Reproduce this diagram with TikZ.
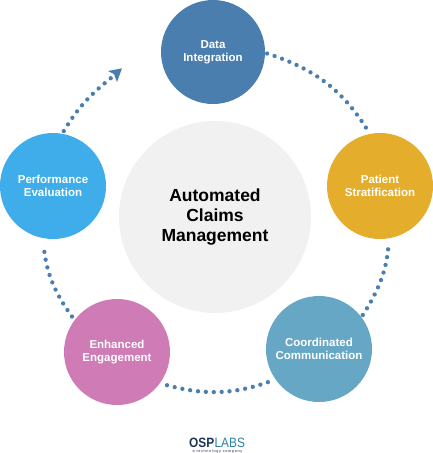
\documentclass[tikz,border=0pt]{standalone}
\usepackage{fontspec}
\setmainfont{Liberation Sans}
\usetikzlibrary{arrows.meta}
\definecolor{cdata}{HTML}{4A7EAF}
\definecolor{cpat}{HTML}{E5AD2C}
\definecolor{ccoord}{HTML}{66A7C5}
\definecolor{cenh}{HTML}{CF7BB6}
\definecolor{cperf}{HTML}{3FADE9}
\definecolor{ccen}{HTML}{F1F1F1}
\definecolor{cnavy}{HTML}{1D3557}
\definecolor{clabs}{HTML}{2C7FA8}
\tikzset{
  stage/.style={circle,draw=none,minimum size=#1,inner sep=0pt,align=center,text=white,
    font=\bfseries\fontsize{11.5}{13}\selectfont},
  hub/.style={circle,fill=ccen,minimum size=192pt,inner sep=0pt,align=center,
    font=\bfseries\fontsize{17.5}{20}\selectfont},
  dots/.style={draw=cdata,line width=4.3pt,line cap=round,dash pattern=on 0pt off 7.9pt},
  logoword/.style={inner sep=0pt,xscale=.88,transform shape,font=\fontsize{13.5}{14}\selectfont}
}
\begin{document}
\begin{tikzpicture}[x=1pt,y=-1pt]
\useasboundingbox (0,0) rectangle (433,453);
\node[hub] (hub) at (215,217) {Automated\\Claims\\Management};
\node[stage=104pt,fill=cdata] (data) at (213,52) {Data\\Integration};
\node[stage=106pt,fill=cpat] (patient) at (380,186) {Patient\\Stratification};
\node[stage=106pt,fill=ccoord] (coord) at (319,349) {Coordinated\\Communication};
\node[stage=106pt,fill=cenh] (enh) at (117,352) {Enhanced\\Engagement};
\node[stage=106pt,fill=cperf] (perf) at (53,186) {Performance\\Evaluation};
\coordinate (shaftend) at (111,78);
\coordinate (tipa) at (122,68.3);
\coordinate (tipb) at (108,71);
\coordinate (tipc) at (114,74);
\coordinate (tipd) at (117,82);
\draw[dots,shorten <=2pt,shorten >=6pt] (data.-1.5) to[bend left=20] (patient.101);
\draw[dots,shorten <=11pt,shorten >=2pt] (patient.-80.6) to[bend left=13.5] (coord.37.6);
\draw[dots,shorten <=8pt,shorten >=5pt] (coord.215.5) to[bend left=17.5] (enh.-36.6);
\draw[dots,shorten <=4.3pt,shorten >=10pt] (enh.143.6) to[bend left=15] (perf.-101.4);
\draw[dots,shorten <=3pt] (perf.80.8) to[bend left=10] (shaftend);
\fill[cdata] (tipa) -- (tipb) -- (tipc) -- (tipd) -- cycle;
\node[logoword,anchor=base west,text=cnavy,font=\bfseries\fontsize{13.5}{14}\selectfont] (osp) at (189,447.6) {OSP};
\node[logoword,anchor=base west,text=clabs] (labs) at (osp.base east) {LABS};
\node[inner sep=0pt,text=cnavy,font=\fontsize{3.8}{4.2}\selectfont\addfontfeature{LetterSpace=18}] (tag) at (217.5,451.2) {a technology company};
\end{tikzpicture}
\end{document}
